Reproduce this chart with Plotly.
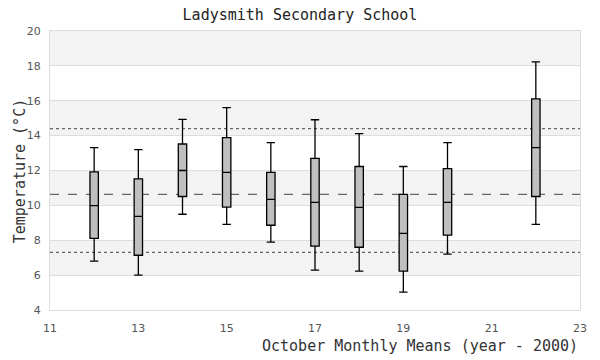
import plotly.graph_objects as go

years = [12, 13, 14, 15, 16, 17, 18, 19, 20, 22]
upper_whisker = [13.31, 13.2, 14.93, 15.61, 13.6, 14.91, 14.11, 12.23, 13.6, 18.23]
q3_vals = [11.92, 11.52, 13.52, 13.89, 11.89, 12.69, 12.23, 10.63, 12.11, 16.11]
medians = [9.98, 9.37, 12.0, 11.89, 10.34, 10.17, 9.89, 8.4, 10.17, 13.31]
q1_vals = [8.11, 7.14, 10.51, 9.9, 8.86, 7.66, 7.6, 6.23, 8.29, 10.51]
lower_whisker = [6.8, 6.0, 9.49, 8.91, 7.89, 6.29, 6.23, 5.03, 7.2, 8.91]

mean_line = 10.63
upper_line = 14.4
lower_line = 7.31

x_range = [11, 23]
y_range = [4, 20]

MONO = "DejaVu Sans Mono"
SANS = "DejaVu Sans"

fig = go.Figure()
fig.add_trace(go.Box(
    x=years, q1=q1_vals, median=medians, q3=q3_vals,
    lowerfence=lower_whisker, upperfence=upper_whisker,
    width=0.19, whiskerwidth=1,
    fillcolor="#bfbfbf", line=dict(color="black", width=1.3),
    boxpoints=False, showlegend=False, hoverinfo="skip",
))

# alternating background bands
shapes = []
for lo in range(y_range[0], y_range[1], 4):
    shapes.append(dict(type="rect", xref="paper", yref="y", x0=0, x1=1,
                       y0=lo + 2, y1=lo + 4, fillcolor="#f3f3f3",
                       line=dict(width=0), layer="below"))
for val, dash in [(mean_line, "dash"), (upper_line, "dot"), (lower_line, "dot")]:
    shapes.append(dict(type="line", xref="paper", yref="y", x0=0, x1=1,
                       y0=val, y1=val, line=dict(color="#666666", width=1.3, dash=dash),
                       layer="below"))

annotations = [
    dict(text="October Monthly Means (year - 2000)", xref="paper", yref="paper",
         x=1, y=-0.13, xanchor="right", yanchor="middle", showarrow=False,
         font=dict(family=MONO, size=15, color="#333333")),
    dict(text="Temperature (°C)", xref="paper", yref="paper", textangle=-90,
         x=-0.057, y=0.5, xanchor="center", yanchor="middle", showarrow=False,
         font=dict(family=MONO, size=15, color="#333333")),
]

fig.update_layout(
    width=600, height=360,
    margin=dict(l=50, r=20, t=31, b=50),
    paper_bgcolor="white", plot_bgcolor="white",
    shapes=shapes, annotations=annotations,
    title=dict(text="Ladysmith Secondary School", x=0.5, xanchor="center",
               y=0.96, yanchor="middle", font=dict(family=MONO, size=15, color="#222222")),
    xaxis=dict(range=x_range, tick0=11, dtick=2, showgrid=False, zeroline=False,
               showline=True, linecolor="#dddddd", mirror=True, ticks="outside",
               ticklen=8, tickcolor="rgba(0,0,0,0)", automargin=False,
               tickfont=dict(family=SANS, size=11, color="#555555")),
    yaxis=dict(range=y_range, tick0=4, dtick=2, showgrid=True, gridcolor="#dddddd",
               zeroline=False, showline=True, linecolor="#dddddd", mirror=True,
               ticks="outside", ticklen=6, tickcolor="rgba(0,0,0,0)", automargin=False,
               tickfont=dict(family=SANS, size=11, color="#555555")),
)
fig.write_html("out.html", config={"displayModeBar": False},
               post_script="document.body.style.margin='0';")
